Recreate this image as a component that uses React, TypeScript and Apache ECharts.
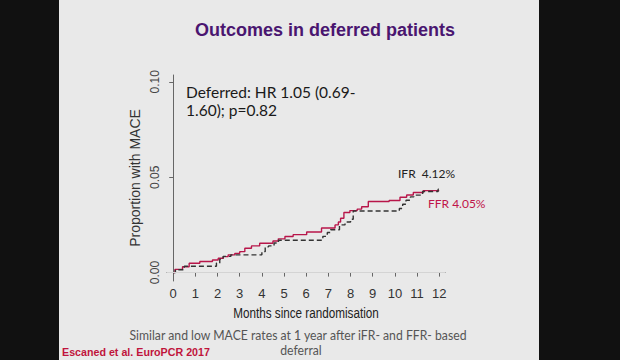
import React, { useEffect, useRef } from "react";
import * as echarts from "echarts";

const xTicks = [0, 1, 2, 3, 4, 5, 6, 7, 8, 9, 10, 11, 12];
const yTicks = [0, 0.05, 0.1];
const yTickLabels = ["0.00", "0.05", "0.10"];

// FFR (solid red): [month of step, cumulative proportion after step]
const ffrSteps: [number, number][] = [
  [0, 0], [0.08, 0.0017], [0.42, 0.0031], [0.72, 0.0049], [1.2, 0.0058],
  [1.77, 0.0066], [2.03, 0.0075], [2.26, 0.0084], [2.48, 0.0093], [2.78, 0.0101],
  [3.0, 0.011], [3.23, 0.0128], [3.53, 0.014], [3.9, 0.0154], [4.5, 0.0166],
  [4.74, 0.0177], [5.04, 0.0189], [5.41, 0.0199], [6.02, 0.0213], [6.69, 0.0234],
  [7.3, 0.025], [7.45, 0.0265], [7.55, 0.0285], [7.7, 0.0315], [7.97, 0.0325],
  [8.3, 0.0333], [8.5, 0.0345], [8.8, 0.0373], [9.74, 0.0378], [10.23, 0.0395],
  [10.53, 0.0407], [10.83, 0.042], [11.28, 0.043], [12.0, 0.043],
];

// iFR (dashed black)
const ifrSteps: [number, number][] = [
  [0, 0], [0.1, 0.0015], [0.5, 0.0033], [1.95, 0.005], [2.1, 0.007],
  [2.25, 0.0085], [2.6, 0.0093], [4.0, 0.011], [4.15, 0.0135], [4.3, 0.014],
  [4.55, 0.0155], [4.75, 0.017], [6.75, 0.019], [6.95, 0.021], [7.1, 0.0225],
  [7.5, 0.025], [7.75, 0.0265], [8.0, 0.028], [8.12, 0.0323], [10.2, 0.0336],
  [10.35, 0.0358], [10.5, 0.0379], [10.7, 0.0397], [10.85, 0.0406], [11.25, 0.0425],
  [11.95, 0.0437], [12.0, 0.045],
];

const titleText = "Outcomes in deferred patients";
const xAxisTitle = "Months since randomisation";
const yAxisTitle = "Proportion with MACE";
const hrLine1 = "Deferred: HR 1.05 (0.69-";
const hrLine2 = "1.60); p=0.82";
const ifrLabel = "IFR  4.12%";
const ffrLabel = "FFR 4.05%";
const footLine1 = "Similar and low MACE rates at 1 year after iFR- and FFR- based";
const footLine2 = "deferral";
const citation = "Escaned et al. EuroPCR 2017";

const sans = "'Liberation Sans', Arial, sans-serif";
const calibri = "Lato, 'Open Sans', sans-serif";

export default function App() {
  const ref = useRef<HTMLDivElement>(null);
  useEffect(() => {
    if (!ref.current) return;
    const chart = echarts.init(ref.current, undefined, { renderer: "svg" });
    chart.setOption({
      animation: false,
      backgroundColor: "#111111",
      graphic: [
        { type: "rect", z: -10, shape: { x: 59, y: 0, width: 480, height: 360 }, style: { fill: "#e9e9e9" } },
        { type: "text", x: 325, y: 30, style: { text: titleText, fill: "#4a1670", font: "bold 18px " + sans, align: "center", verticalAlign: "middle" } },
        { type: "text", x: 186, y: 92, style: { text: hrLine1, fill: "#1a1a1a", font: "15.5px " + calibri, align: "left", verticalAlign: "middle" } },
        { type: "text", x: 186, y: 110, style: { text: hrLine2, fill: "#1a1a1a", font: "15.5px " + calibri, align: "left", verticalAlign: "middle" } },
        { type: "text", x: 398, y: 173, style: { text: ifrLabel, fill: "#222", font: "12px " + calibri, align: "left", verticalAlign: "middle" } },
        { type: "text", x: 428, y: 203, style: { text: ffrLabel, fill: "#c0144a", font: "12px " + calibri, align: "left", verticalAlign: "middle" } },
        { type: "text", x: 306, y: 313, scaleX: 0.78, style: { text: xAxisTitle, fill: "#222", font: "15px " + sans, align: "center", verticalAlign: "middle" } },
        { type: "text", x: 298, y: 335, scaleX: 0.94, style: { text: footLine1, fill: "#555", font: "13px " + calibri, align: "center", verticalAlign: "middle" } },
        { type: "text", x: 301, y: 350, scaleX: 0.94, style: { text: footLine2, fill: "#555", font: "13px " + calibri, align: "center", verticalAlign: "middle" } },
        { type: "text", x: 62, y: 352, style: { text: citation, fill: "#c0143c", font: "bold 10.7px " + sans, align: "left", verticalAlign: "middle" } },
      ],
      grid: { left: 167, right: 175, top: 75, bottom: 79, containLabel: false },
      xAxis: {
        type: "value",
        min: -0.28,
        max: 12.26,
        axisLine: { show: true, lineStyle: { color: "#666", width: 1 } },
        axisTick: { show: true, length: 4, customValues: xTicks, lineStyle: { color: "#666" } },
        axisLabel: { customValues: xTicks, color: "#333", fontSize: 13, fontFamily: sans, margin: 6, formatter: (v: number) => String(Math.round(v)) },
        splitLine: { show: false },
      },
      yAxis: {
        type: "value",
        min: -0.0044,
        max: 0.1036,
        name: yAxisTitle,
        nameLocation: "middle",
        nameGap: 25,
        nameRotate: 90,
        nameTextStyle: { color: "#333", fontSize: 14, fontFamily: sans },
        axisLine: { show: true, lineStyle: { color: "#666", width: 1 } },
        axisTick: { show: true, length: 4, customValues: yTicks, lineStyle: { color: "#666" } },
        axisLabel: {
          customValues: yTicks,
          rotate: 90,
          color: "#444",
          fontSize: 12,
          fontFamily: sans,
          margin: 6,
          formatter: (v: number) => {
            const i = yTicks.findIndex((t) => Math.abs(t - v) < 1e-9);
            return i >= 0 ? yTickLabels[i] : "";
          },
        },
        splitLine: { show: false },
      },
      series: [
        {
          type: "line",
          name: "iFR",
          step: "end",
          data: ifrSteps,
          showSymbol: false,
          symbol: "none",
          lineStyle: { color: "#333", width: 1.4, type: [5, 3] },
          z: 3,
          markLine: {
            silent: true,
            symbol: "none",
            label: { show: false },
            lineStyle: { color: "#d4d4d4", width: 1, type: "solid" },
            data: [{ yAxis: 0 }],
          },
        },
        {
          type: "line",
          name: "FFR",
          step: "end",
          data: ffrSteps,
          showSymbol: false,
          symbol: "none",
          lineStyle: { color: "#b8164a", width: 1.4 },
          z: 2,
        },
      ],
    });
    return () => chart.dispose();
  }, []);
  return <div ref={ref} style={{ position: "fixed", left: 0, top: 0, width: 620, height: 360 }} />;
}
